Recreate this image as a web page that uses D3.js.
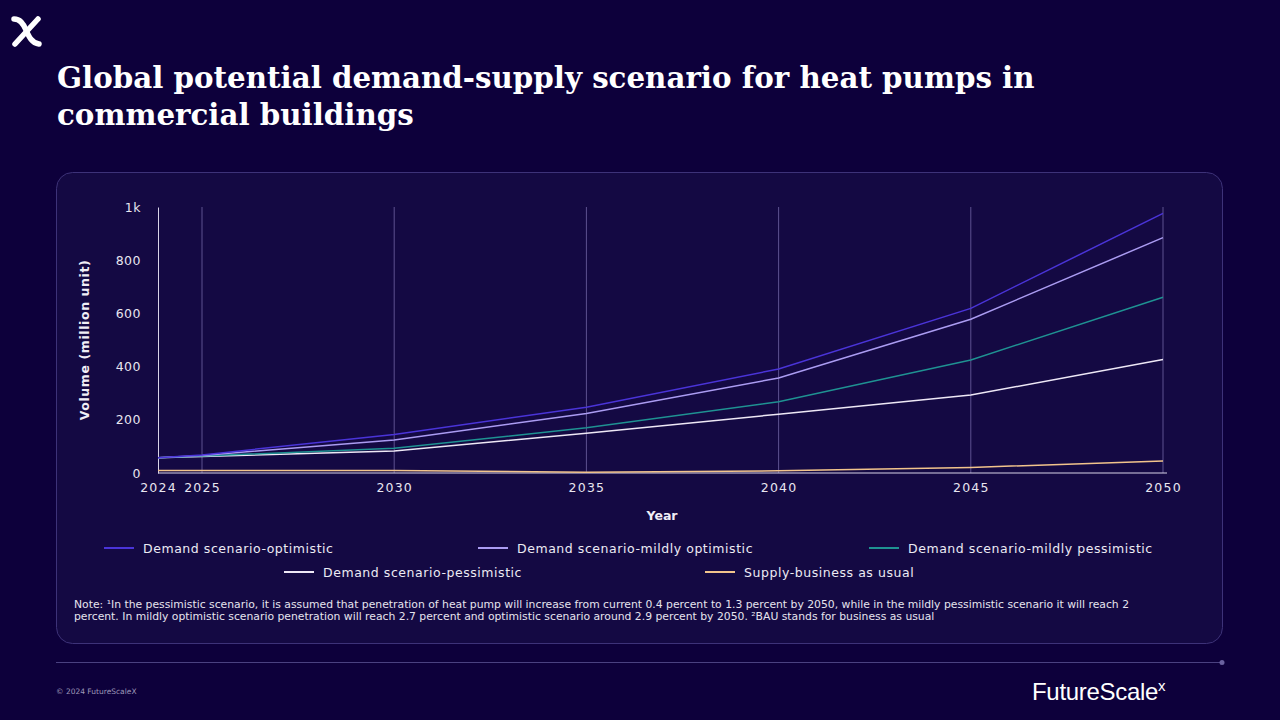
<!DOCTYPE html>
<html><head><meta charset="utf-8">
<script src="https://cdn.jsdelivr.net/npm/d3@7"></script>
<style>
html,body{margin:0;padding:0;background:#0d003b;}
svg{display:block;}
</style></head>
<body>
<svg id="c" width="1280" height="720"></svg>
<script>
const years = [2024, 2025, 2030, 2035, 2040, 2045, 2050];
const tickYears = [2024, 2025, 2030, 2035, 2040, 2045, 2050];
const yTicks = [0, 200, 400, 600, 800, 1000];
const optimistic = [57, 68, 145, 247, 391, 619, 976];
const mildlyOptimistic = [57, 66, 124, 224, 357, 578, 885];
const mildlyPessimistic = [57, 64, 93, 170, 268, 425, 661];
const pessimistic = [57, 62, 83, 149, 221, 293, 427];
const supplyBAU = [9, 9, 9, 3, 8, 21, 45];
const seriesNames = ["Demand scenario-optimistic", "Demand scenario-mildly optimistic", "Demand scenario-mildly pessimistic", "Demand scenario-pessimistic", "Supply-business as usual"];
const seriesColors = ["#4a34d8", "#ab9cf2", "#1f9292", "#eee8f6", "#f2c48c"];
const seriesValues = [optimistic, mildlyOptimistic, mildlyPessimistic, pessimistic, supplyBAU];

const svg = d3.select("#c");
const sans = "'DejaVu Sans', Verdana, sans-serif";

svg.append("rect").attr("width",1280).attr("height",720).attr("fill","#0d003b");

// top-left logo x
const lg = svg.append("g").attr("transform","translate(12,17)");
lg.append("path").attr("d","M2,2 C8,2 11,6 14,13 C17,20 20,26 27,27").attr("fill","none").attr("stroke","#fff").attr("stroke-width",5.5).attr("stroke-linecap","round");
lg.append("path").attr("d","M26,2 L3,27").attr("fill","none").attr("stroke","#fff").attr("stroke-width",5.5).attr("stroke-linecap","round");

// title
const title = svg.append("text").attr("fill","#ffffff")
  .attr("font-family","'DejaVu Serif', Georgia, serif").attr("font-weight","bold").attr("font-size",29.3);
title.append("tspan").attr("x",57).attr("y",88).text("Global potential demand-supply scenario for heat pumps in");
title.append("tspan").attr("x",57).attr("y",125).text("commercial buildings");

// panel
svg.append("rect").attr("x",56.5).attr("y",172.5).attr("width",1166).attr("height",471).attr("rx",16)
  .attr("fill","#140943").attr("stroke","#3d3278").attr("stroke-width",1);

// scales
const x = d3.scaleLinear().domain([2024, 2025, 2050]).range([158, 202, 1163]);
const y = d3.scaleLinear().domain([0, 1000]).range([473, 207]);

// vertical gridlines
svg.append("g").selectAll("line").data(tickYears.filter(d=>d>2024)).join("line")
  .attr("x1",d=>x(d)).attr("x2",d=>x(d)).attr("y1",y(1000)).attr("y2",y(0))
  .attr("stroke","#5d5290").attr("stroke-width",1);

// y axis
const yAxis = d3.axisLeft(y).tickValues(yTicks).tickSize(0).tickPadding(17)
  .tickFormat(d => d === 1000 ? "1k" : d3.format("d")(d));
const gy = svg.append("g").attr("transform","translate(158,0)").call(yAxis);
gy.select(".domain").attr("stroke","#d8d4e8").attr("stroke-width",1);
gy.selectAll("text").attr("fill","#e8e6f0").attr("font-family",sans).attr("font-size",12.5).attr("letter-spacing","0.5px");

// x axis
const xAxis = d3.axisBottom(x).tickValues(tickYears).tickSize(0).tickPadding(10).tickFormat(d3.format("d"));
const gx = svg.append("g").attr("transform","translate(0,473)").call(xAxis);
gx.select(".domain").attr("stroke","#d8d4e8").attr("stroke-width",1).attr("d","M158,0H1167");
gx.selectAll("text").attr("fill","#e8e6f0").attr("font-family",sans).attr("font-size",12.5).attr("letter-spacing","1.2px");

// axis titles
svg.append("text").attr("x",662).attr("y",520).attr("text-anchor","middle").attr("fill","#f0eef6")
  .attr("font-family",sans).attr("font-weight","bold").attr("font-size",12.5).text("Year");
svg.append("text").attr("transform","translate(89,340) rotate(-90)").attr("text-anchor","middle").attr("fill","#f0eef6")
  .attr("font-family",sans).attr("font-weight","bold").attr("font-size",12.5).attr("letter-spacing","0.6px").text("Volume (million unit)");

// lines
const line = d3.line().x((d,i)=>x(years[i])).y(d=>y(d));
const drawOrder = [4, 3, 2, 1, 0];
svg.append("g").selectAll("path").data(drawOrder).join("path")
  .attr("d", i => line(seriesValues[i]))
  .attr("fill","none").attr("stroke", i => seriesColors[i]).attr("stroke-width",1.5);

// legend
const legendPos = [[104,548],[478,548],[869,548],[284,572],[705,572]];
const lgd = svg.append("g").selectAll("g").data(seriesNames).join("g")
  .attr("transform",(d,i)=>`translate(${legendPos[i][0]},${legendPos[i][1]})`);
lgd.append("line").attr("x1",0).attr("x2",30).attr("y1",0).attr("y2",0)
  .attr("stroke",(d,i)=>seriesColors[i]).attr("stroke-width",2);
lgd.append("text").attr("x",39).attr("y",4.5).attr("fill","#ecebf4").attr("font-family",sans)
  .attr("font-size",12.5).attr("letter-spacing","0.55px").text(d=>d);

// note
const note = svg.append("text").attr("fill","#e6e4ee").attr("font-family",sans).attr("font-size",10.8);
note.append("tspan").attr("x",74).attr("y",608).text("Note: \u00B9In the pessimistic scenario, it is assumed that penetration of heat pump will increase from current 0.4 percent to 1.3 percent by 2050, while in the mildly pessimistic scenario it will reach 2");
note.append("tspan").attr("x",74).attr("y",620).text("percent. In mildly optimistic scenario penetration will reach 2.7 percent and optimistic scenario around 2.9 percent by 2050. \u00B2BAU stands for business as usual");

// footer
svg.append("line").attr("x1",56).attr("x2",1222).attr("y1",662.5).attr("y2",662.5).attr("stroke","#4a4180").attr("stroke-width",1);
svg.append("circle").attr("cx",1222).attr("cy",662.5).attr("r",2.5).attr("fill","#6a62a0");
svg.append("text").attr("x",56).attr("y",694).attr("fill","#9d98b8").attr("font-family",sans).attr("font-size",7.5).text("\u00A9 2024 FutureScaleX");
const brand = svg.append("text").attr("x",1032).attr("y",700).attr("fill","#ffffff")
  .attr("font-family","'Liberation Sans', Arial, sans-serif").attr("font-size",24).attr("letter-spacing","-0.3px");
brand.append("tspan").text("FutureScale");
brand.append("tspan").attr("dy",-9).attr("font-size",15).text("x");
</script>
</body></html>
